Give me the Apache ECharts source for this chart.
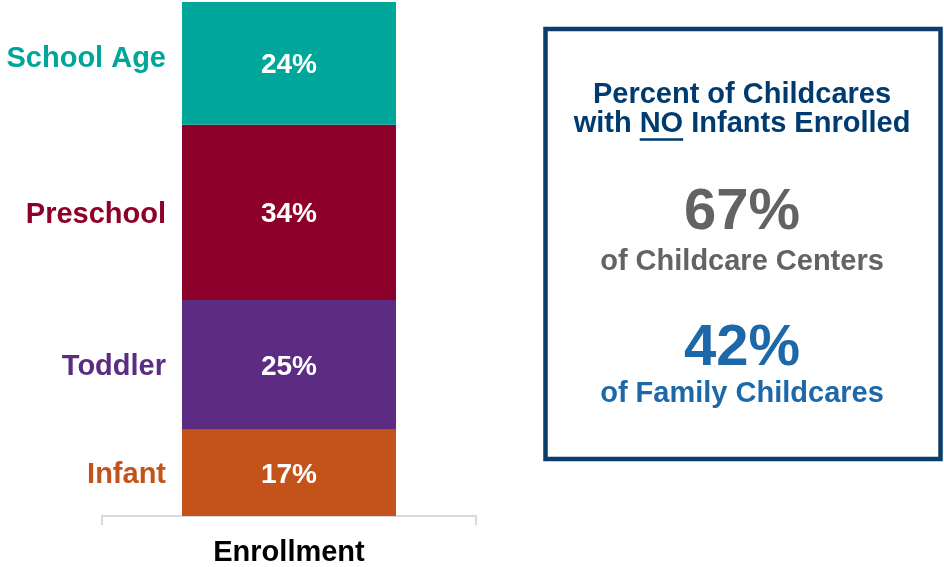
<!DOCTYPE html>
<html>
<head>
<meta charset="utf-8">
<script src="https://cdn.jsdelivr.net/npm/echarts@6/dist/echarts.min.js"></script>
<style>
html,body{margin:0;padding:0;background:#fff;}
#chart{width:944px;height:567px;}
</style>
</head>
<body>
<div id="chart"></div>
<script>
var categories = ['Enrollment'];
var seriesNames = ['Infant', 'Toddler', 'Preschool', 'School Age'];
var infantValues = [16.8];
var toddlerValues = [25.2];
var preschoolValues = [34.1];
var schoolAgeValues = [23.9];
var seriesColors = ['#c4521b', '#5b2c82', '#8c0029', '#00a699'];
var boxTitleLine1 = 'Percent of Childcares';
var boxTitleLine2 = 'with NO Infants Enrolled';
var centersPct = '67%';
var centersText = 'of Childcare Centers';
var familyPct = '42%';
var familyText = 'of Family Childcares';

var FONT = '"Liberation Sans", Arial, sans-serif';
var allValues = [infantValues, toddlerValues, preschoolValues, schoolAgeValues];
var nameOffsets = [0, 0, 0, -7];

var series = [];
allValues.forEach(function (vals, i) {
  series.push({
    name: seriesNames[i],
    type: 'bar',
    stack: 'main',
    data: vals,
    barWidth: 214,
    barGap: '-100%',
    itemStyle: { color: seriesColors[i] },
    label: {
      show: true, position: 'inside', offset: [0, 2],
      formatter: function (p) { return Math.round(p.value) + '%'; },
      color: '#ffffff', fontFamily: FONT, fontWeight: 'bold', fontSize: 28
    },
    silent: true
  });
});
allValues.forEach(function (vals, i) {
  series.push({
    name: seriesNames[i] + ' label',
    type: 'bar',
    stack: 'names',
    data: vals,
    barWidth: 214,
    barGap: '-100%',
    itemStyle: { color: 'rgba(0,0,0,0)' },
    label: {
      show: true, position: 'left', distance: 16,
      offset: [0, nameOffsets[i] + 2.5],
      formatter: seriesNames[i],
      color: seriesColors[i], fontFamily: FONT, fontWeight: 'bold', fontSize: 29
    },
    silent: true
  });
});

// measure for underline under "NO"
var cv = document.createElement('canvas').getContext('2d');
cv.font = 'bold 29px ' + FONT;
var fullW = cv.measureText(boxTitleLine2).width;
var preW = cv.measureText('with ').width;
var noW = cv.measureText('NO').width;
var cx = 742;
var ulX1 = cx - fullW / 2 + preW;
var ulX2 = ulX1 + noW;

var chart = echarts.init(document.getElementById('chart'), null, { renderer: 'canvas' });
chart.setOption({
  animation: false,
  backgroundColor: '#ffffff',
  grid: { left: 102, top: 2, width: 374, height: 515, containLabel: false },
  xAxis: {
    type: 'category',
    data: categories,
    axisLine: { show: true, lineStyle: { color: '#d9d9d9', width: 2 } },
    axisTick: { show: true, length: 9, lineStyle: { color: '#d9d9d9', width: 2 } },
    axisLabel: {
      margin: 22, color: '#000000', fontFamily: FONT, fontWeight: 'bold', fontSize: 29
    }
  },
  yAxis: { type: 'value', min: 0, max: 100, show: false },
  series: series,
  graphic: [
    { type: 'rect', shape: { x: 545.5, y: 29, width: 395, height: 430 },
      style: { fill: 'none', stroke: '#0b3d6c', lineWidth: 4.5 } },
    { type: 'text', x: cx, y: 95, style: { text: boxTitleLine1, fill: '#003b70',
      font: 'bold 29px ' + FONT, textAlign: 'center', textVerticalAlign: 'middle' } },
    { type: 'text', x: cx, y: 124, style: { text: boxTitleLine2, fill: '#003b70',
      font: 'bold 29px ' + FONT, textAlign: 'center', textVerticalAlign: 'middle' } },
    { type: 'line', shape: { x1: ulX1, y1: 139.5, x2: ulX2, y2: 139.5 },
      style: { stroke: '#003b70', lineWidth: 2.5 } },
    { type: 'text', x: cx, y: 212.5, style: { text: centersPct, fill: '#636366',
      font: 'bold 58px ' + FONT, textAlign: 'center', textVerticalAlign: 'middle' } },
    { type: 'text', x: cx, y: 262, style: { text: centersText, fill: '#636366',
      font: 'bold 29px ' + FONT, textAlign: 'center', textVerticalAlign: 'middle' } },
    { type: 'text', x: cx, y: 348.5, style: { text: familyPct, fill: '#1c68a8',
      font: 'bold 58px ' + FONT, textAlign: 'center', textVerticalAlign: 'middle' } },
    { type: 'text', x: cx, y: 394, style: { text: familyText, fill: '#1c68a8',
      font: 'bold 29px ' + FONT, textAlign: 'center', textVerticalAlign: 'middle' } }
  ]
});
</script>
</body>
</html>
